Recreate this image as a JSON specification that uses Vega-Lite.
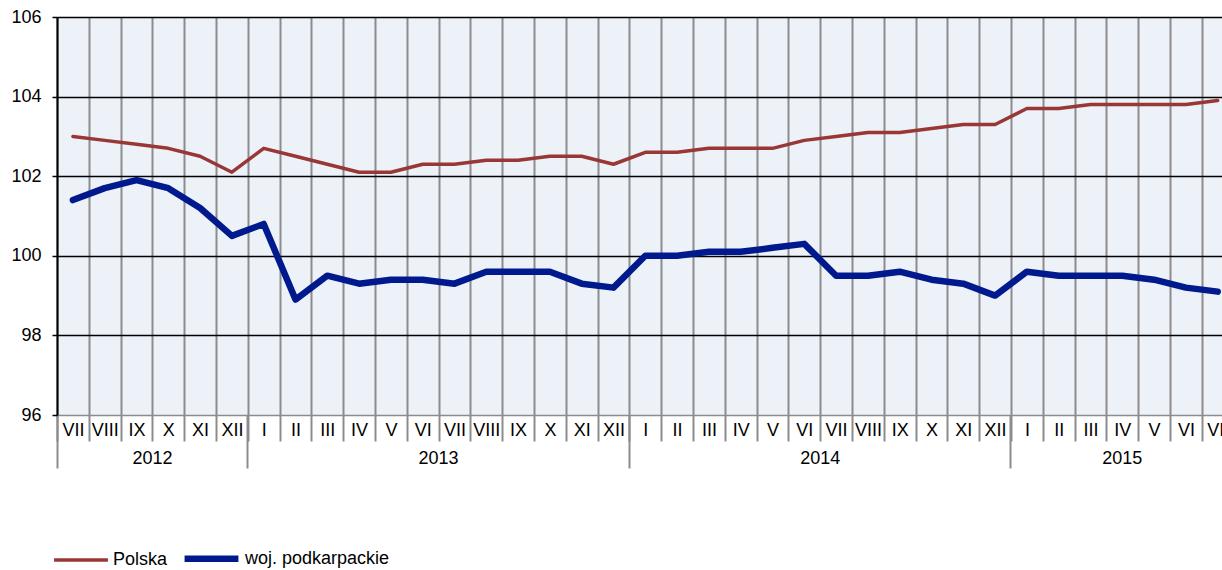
{
  "$schema": "https://vega.github.io/schema/vega-lite/v6.json",
  "autosize": {"type": "none"},
  "width": 1165,
  "height": 398,
  "padding": {"left": 57, "top": 17, "right": 0, "bottom": 155},
  "background": "white",
  "config": {
    "view": {"fill": "#edf1f8", "stroke": null},
    "font": "Liberation Sans",
    "axis": {"labelFont": "Liberation Sans", "labelColor": "black", "titleFont": "Liberation Sans"},
    "legend": {"labelFont": "Liberation Sans"}
  },
  "datasets": {
    "series": [
      {"key": "2012-07", "series": "Polska", "value": 103.0},
      {"key": "2012-08", "series": "Polska", "value": 102.9},
      {"key": "2012-09", "series": "Polska", "value": 102.8},
      {"key": "2012-10", "series": "Polska", "value": 102.7},
      {"key": "2012-11", "series": "Polska", "value": 102.5},
      {"key": "2012-12", "series": "Polska", "value": 102.1},
      {"key": "2013-01", "series": "Polska", "value": 102.7},
      {"key": "2013-02", "series": "Polska", "value": 102.5},
      {"key": "2013-03", "series": "Polska", "value": 102.3},
      {"key": "2013-04", "series": "Polska", "value": 102.1},
      {"key": "2013-05", "series": "Polska", "value": 102.1},
      {"key": "2013-06", "series": "Polska", "value": 102.3},
      {"key": "2013-07", "series": "Polska", "value": 102.3},
      {"key": "2013-08", "series": "Polska", "value": 102.4},
      {"key": "2013-09", "series": "Polska", "value": 102.4},
      {"key": "2013-10", "series": "Polska", "value": 102.5},
      {"key": "2013-11", "series": "Polska", "value": 102.5},
      {"key": "2013-12", "series": "Polska", "value": 102.3},
      {"key": "2014-01", "series": "Polska", "value": 102.6},
      {"key": "2014-02", "series": "Polska", "value": 102.6},
      {"key": "2014-03", "series": "Polska", "value": 102.7},
      {"key": "2014-04", "series": "Polska", "value": 102.7},
      {"key": "2014-05", "series": "Polska", "value": 102.7},
      {"key": "2014-06", "series": "Polska", "value": 102.9},
      {"key": "2014-07", "series": "Polska", "value": 103.0},
      {"key": "2014-08", "series": "Polska", "value": 103.1},
      {"key": "2014-09", "series": "Polska", "value": 103.1},
      {"key": "2014-10", "series": "Polska", "value": 103.2},
      {"key": "2014-11", "series": "Polska", "value": 103.3},
      {"key": "2014-12", "series": "Polska", "value": 103.3},
      {"key": "2015-01", "series": "Polska", "value": 103.7},
      {"key": "2015-02", "series": "Polska", "value": 103.7},
      {"key": "2015-03", "series": "Polska", "value": 103.8},
      {"key": "2015-04", "series": "Polska", "value": 103.8},
      {"key": "2015-05", "series": "Polska", "value": 103.8},
      {"key": "2015-06", "series": "Polska", "value": 103.8},
      {"key": "2015-07", "series": "Polska", "value": 103.9},
      {"key": "2012-07", "series": "woj. podkarpackie", "value": 101.4},
      {"key": "2012-08", "series": "woj. podkarpackie", "value": 101.7},
      {"key": "2012-09", "series": "woj. podkarpackie", "value": 101.9},
      {"key": "2012-10", "series": "woj. podkarpackie", "value": 101.7},
      {"key": "2012-11", "series": "woj. podkarpackie", "value": 101.2},
      {"key": "2012-12", "series": "woj. podkarpackie", "value": 100.5},
      {"key": "2013-01", "series": "woj. podkarpackie", "value": 100.8},
      {"key": "2013-02", "series": "woj. podkarpackie", "value": 98.9},
      {"key": "2013-03", "series": "woj. podkarpackie", "value": 99.5},
      {"key": "2013-04", "series": "woj. podkarpackie", "value": 99.3},
      {"key": "2013-05", "series": "woj. podkarpackie", "value": 99.4},
      {"key": "2013-06", "series": "woj. podkarpackie", "value": 99.4},
      {"key": "2013-07", "series": "woj. podkarpackie", "value": 99.3},
      {"key": "2013-08", "series": "woj. podkarpackie", "value": 99.6},
      {"key": "2013-09", "series": "woj. podkarpackie", "value": 99.6},
      {"key": "2013-10", "series": "woj. podkarpackie", "value": 99.6},
      {"key": "2013-11", "series": "woj. podkarpackie", "value": 99.3},
      {"key": "2013-12", "series": "woj. podkarpackie", "value": 99.2},
      {"key": "2014-01", "series": "woj. podkarpackie", "value": 100.0},
      {"key": "2014-02", "series": "woj. podkarpackie", "value": 100.0},
      {"key": "2014-03", "series": "woj. podkarpackie", "value": 100.1},
      {"key": "2014-04", "series": "woj. podkarpackie", "value": 100.1},
      {"key": "2014-05", "series": "woj. podkarpackie", "value": 100.2},
      {"key": "2014-06", "series": "woj. podkarpackie", "value": 100.3},
      {"key": "2014-07", "series": "woj. podkarpackie", "value": 99.5},
      {"key": "2014-08", "series": "woj. podkarpackie", "value": 99.5},
      {"key": "2014-09", "series": "woj. podkarpackie", "value": 99.6},
      {"key": "2014-10", "series": "woj. podkarpackie", "value": 99.4},
      {"key": "2014-11", "series": "woj. podkarpackie", "value": 99.3},
      {"key": "2014-12", "series": "woj. podkarpackie", "value": 99.0},
      {"key": "2015-01", "series": "woj. podkarpackie", "value": 99.6},
      {"key": "2015-02", "series": "woj. podkarpackie", "value": 99.5},
      {"key": "2015-03", "series": "woj. podkarpackie", "value": 99.5},
      {"key": "2015-04", "series": "woj. podkarpackie", "value": 99.5},
      {"key": "2015-05", "series": "woj. podkarpackie", "value": 99.4},
      {"key": "2015-06", "series": "woj. podkarpackie", "value": 99.2},
      {"key": "2015-07", "series": "woj. podkarpackie", "value": 99.1}
    ],
    "years": [
      {"key": "2012-10", "year": "2012"},
      {"key": "2013-07", "year": "2013"},
      {"key": "2014-07", "year": "2014"}
    ],
    "years2": [
      {"key": "2015-04", "year": "2015"}
    ]
  },
  "layer": [
    {
      "data": {"name": "series"},
      "mark": {"type": "line", "strokeCap": "round", "strokeJoin": "round"},
      "encoding": {
        "x": {
          "field": "key",
          "type": "ordinal",
          "scale": {
            "type": "band",
            "domain": ["2012-07","2012-08","2012-09","2012-10","2012-11","2012-12","2013-01","2013-02","2013-03","2013-04","2013-05","2013-06","2013-07","2013-08","2013-09","2013-10","2013-11","2013-12","2014-01","2014-02","2014-03","2014-04","2014-05","2014-06","2014-07","2014-08","2014-09","2014-10","2014-11","2014-12","2015-01","2015-02","2015-03","2015-04","2015-05","2015-06","2015-07"],
            "range": [0, 1176.6],
            "paddingInner": 0,
            "paddingOuter": 0
          },
          "axis": {
            "title": null,
            "orient": "bottom",
            "tickBand": "extent",
            "domain": false,
            "grid": true,
            "gridColor": "#8c8c8c",
            "gridWidth": 2,
            "ticks": true,
            "tickColor": "#8c8c8c",
            "tickWidth": 2,
            "tickSize": 26,
            "labelAngle": 0,
            "labelAlign": "center",
            "labelFontSize": 18,
            "labelPadding": -20,
            "labelBaseline": "top",
            "labelOverlap": false,
            "labelExpr": "['I','II','III','IV','V','VI','VII','VIII','IX','X','XI','XII'][toNumber(substring(datum.value,5,7))-1]"
          }
        },
        "y": {
          "field": "value",
          "type": "quantitative",
          "scale": {"domain": [96, 106], "nice": false, "zero": false},
          "axis": {
            "title": null,
            "values": [96, 98, 100, 102, 104, 106],
            "grid": true,
            "gridColor": {"condition": {"test": "datum.value == 96", "value": "#8c8c8c"}, "value": "black"},
            "gridWidth": 1.6,
            "domain": true,
            "domainColor": "black",
            "domainWidth": 2,
            "tickColor": "black",
            "tickSize": 5,
            "tickWidth": 1.5,
            "labelFontSize": 18,
            "labelPadding": 11
          }
        },
        "color": {
          "field": "series",
          "type": "nominal",
          "scale": {"domain": ["Polska", "woj. podkarpackie"], "range": ["#983736", "#001a8e"]},
          "legend": {
            "title": null,
            "orient": "none",
            "legendX": -5,
            "legendY": 511,
            "direction": "horizontal",
            "symbolType": "stroke",
            "symbolSize": 2900,
            "labelFontSize": 18,
            "labelColor": "black",
            "labelOffset": 3,
            "columnPadding": 3
          }
        },
        "strokeWidth": {
          "field": "series",
          "type": "ordinal",
          "scale": {"domain": ["Polska", "woj. podkarpackie"], "range": [3.5, 6.5]},
          "legend": {
            "title": null,
            "orient": "none",
            "legendX": -5,
            "legendY": 511,
            "direction": "horizontal",
            "symbolType": "stroke",
            "symbolSize": 2900,
            "labelFontSize": 18,
            "labelColor": "black",
            "labelOffset": 3,
            "columnPadding": 3
          }
        }
      }
    },
    {
      "data": {"name": "years"},
      "mark": {"type": "text", "fontSize": 18, "font": "Liberation Sans", "color": "black", "baseline": "middle", "align": "center", "dy": 44},
      "encoding": {
        "x": {
          "field": "key",
          "type": "ordinal",
          "bandPosition": 0,
          "axis": {
            "title": null,
            "orient": "bottom",
            "values": ["2012-07", "2013-01", "2014-01", "2015-01"],
            "bandPosition": 0,
            "domain": false,
            "grid": false,
            "labels": false,
            "ticks": true,
            "tickColor": "#8c8c8c",
            "tickWidth": 2,
            "tickSize": 53
          }
        },
        "y": {"datum": 96, "type": "quantitative"},
        "text": {"field": "year"}
      }
    },
    {
      "data": {"name": "years2"},
      "mark": {"type": "text", "fontSize": 18, "font": "Liberation Sans", "color": "black", "baseline": "middle", "align": "center", "dy": 44},
      "encoding": {
        "x": {"field": "key", "type": "ordinal", "bandPosition": 0.5, "axis": null},
        "y": {"datum": 96, "type": "quantitative"},
        "text": {"field": "year"}
      }
    }
  ],
  "resolve": {"axis": {"x": "independent"}}
}
